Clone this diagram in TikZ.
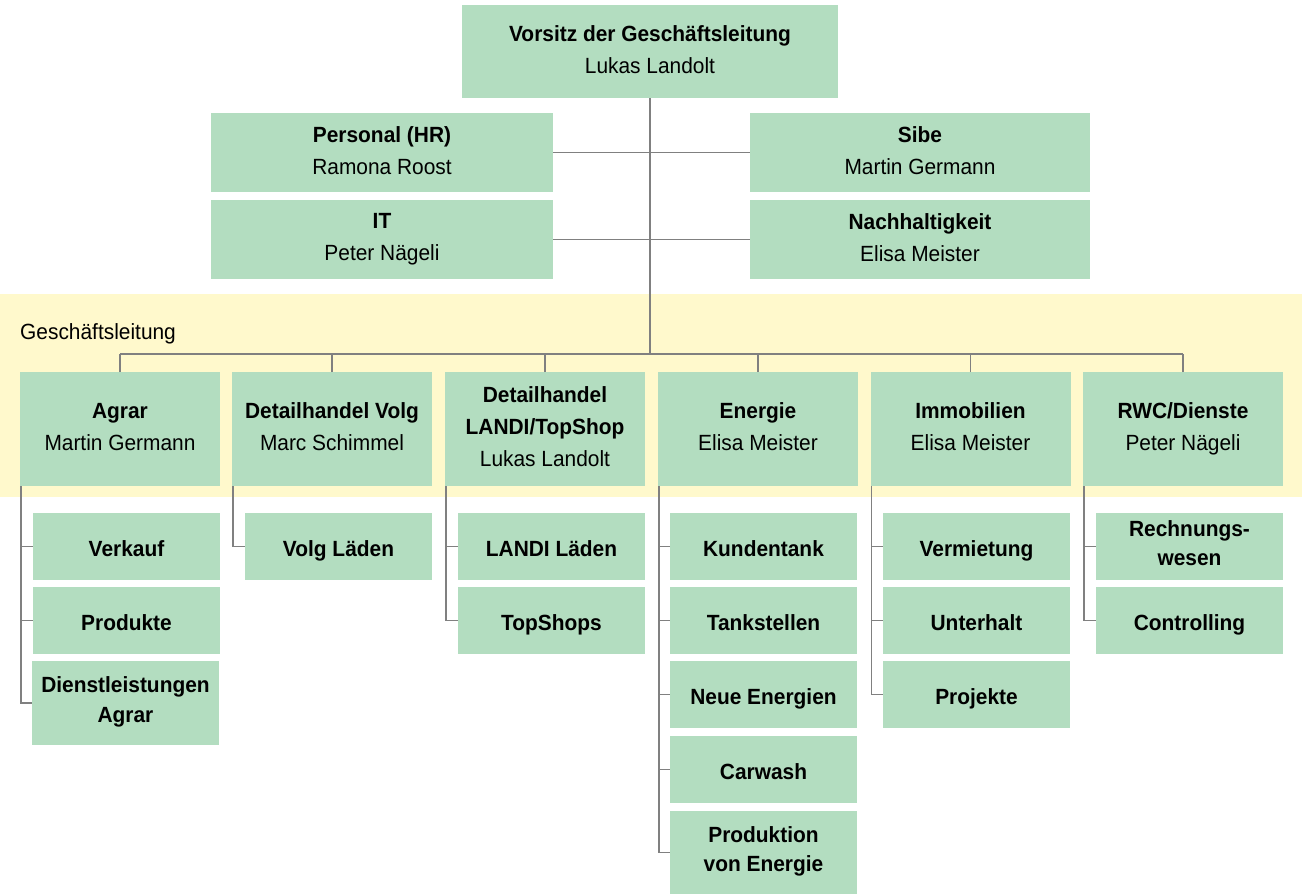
\documentclass[tikz,border=0pt]{standalone}
\usepackage{fontspec}
\setmainfont{Liberation Sans}[FakeStretch=0.95]
\definecolor{boxgreen}{RGB}{179,221,192}
\definecolor{bandyellow}{RGB}{255,249,204}
\definecolor{linegray}{RGB}{128,128,128}
\newcommand{\mystrutA}{\rule[-4.4pt]{0pt}{32pt}}
\newcommand{\mystrutB}{\rule[-6.8pt]{0pt}{29.5pt}}
\tikzset{
  box/.style={fill=boxgreen, inner sep=0pt, outer sep=0pt, align=center, text=black,
    font=\fontsize{22}{32}\selectfont,
    execute at begin node=\mystrutA, execute at end node=\mystrutA},
  topbox/.style={box, minimum width=#1, minimum height=79pt},
  headbox/.style={box, minimum width=200pt, minimum height=114pt},
  subbox/.style={box, minimum width=187pt, minimum height=67pt,
    font=\bfseries\fontsize{22}{29.5}\selectfont,
    execute at begin node=\mystrutB, execute at end node=\mystrutB},
  conn/.style={draw=linegray, line width=1.2pt}
}
\begin{document}
\begin{tikzpicture}[x=1pt, y=-1pt]
\useasboundingbox (0,0) rectangle (1302,894);
% band
\fill[bandyellow] (0,294) rectangle (1302,497);
\node[anchor=base west, inner sep=0pt, font=\fontsize{22}{26}\selectfont] (gl) at (20,339) {Geschäftsleitung};
% top level
\node[box, minimum width=376pt, minimum height=93pt] (top) at (650,51.5) {\textbf{Vorsitz der Geschäftsleitung}\\Lukas Landolt};
\node[topbox=342pt] (hr) at (382,152.5) {\textbf{Personal (HR)}\\Ramona Roost};
\node[topbox=340pt] (sibe) at (920,152.5) {\textbf{Sibe}\\Martin Germann};
\node[topbox=342pt] (it) at (382,239.5) {\textbf{IT}\\Peter Nägeli};
\node[topbox=340pt] (nach) at (920,239.5) {\textbf{Nachhaltigkeit}\\Elisa Meister};
% heads
\node[headbox] (agrar) at (120,429) {\textbf{Agrar}\\Martin Germann};
\node[headbox] (volg) at (332,429) {\textbf{Detailhandel Volg}\\Marc Schimmel};
\node[headbox] (landi) at (545,429) {\textbf{Detailhandel}\\\textbf{LANDI/TopShop}\\Lukas Landolt};
\node[headbox] (energie) at (758,429) {\textbf{Energie}\\Elisa Meister};
\node[headbox] (immo) at (970.5,429) {\textbf{Immobilien}\\Elisa Meister};
\node[headbox] (rwc) at (1183,429) {\textbf{RWC/Dienste}\\Peter Nägeli};
% subs
\node[subbox] (verkauf) at (126.5,546.5) {Verkauf};
\node[subbox] (produkte) at (126.5,620.5) {Produkte};
\node[subbox, minimum height=84pt] (dienst) at (125.5,703) {Dienstleistungen\\Agrar};
\node[subbox] (volgl) at (338.5,546.5) {Volg Läden};
\node[subbox] (landil) at (551.5,546.5) {LANDI Läden};
\node[subbox] (topshops) at (551.5,620.5) {TopShops};
\node[subbox] (kunden) at (763.5,546.5) {Kundentank};
\node[subbox] (tank) at (763.5,620.5) {Tankstellen};
\node[subbox] (neue) at (763.5,694.5) {Neue Energien};
\node[subbox] (carwash) at (763.5,769.5) {Carwash};
\node[subbox, minimum height=83pt] (prod) at (763.5,852.5) {Produktion\\von Energie};
\node[subbox] (verm) at (976.5,546.5) {Vermietung};
\node[subbox] (unter) at (976.5,620.5) {Unterhalt};
\node[subbox] (proj) at (976.5,694.5) {Projekte};
\node[subbox] (rech) at (1189.5,546.5) {Rechnungs-\\wesen};
\node[subbox] (contr) at (1189.5,620.5) {Controlling};
% connectors
\coordinate (bus) at (0,354);
\draw[conn] (top.south) -- (top.south |- bus);
\draw[conn] (hr.east) -- (sibe.west);
\draw[conn] (it.east) -- (nach.west);
\draw[conn] (agrar.north |- bus) -- (rwc.north |- bus);
\foreach \n in {agrar,volg,landi,energie,immo,rwc}
  \draw[conn] (\n.north) -- (\n.north |- bus);
\foreach \p/\cs in {agrar/{verkauf,produkte,dienst}, volg/{volgl}, landi/{landil,topshops},
    energie/{kunden,tank,neue,carwash,prod}, immo/{verm,unter,proj}, rwc/{rech,contr}}
  \foreach \c in \cs
    \draw[conn] ([xshift=1pt]\p.south west) |- (\c.west);
\end{tikzpicture}
\end{document}
